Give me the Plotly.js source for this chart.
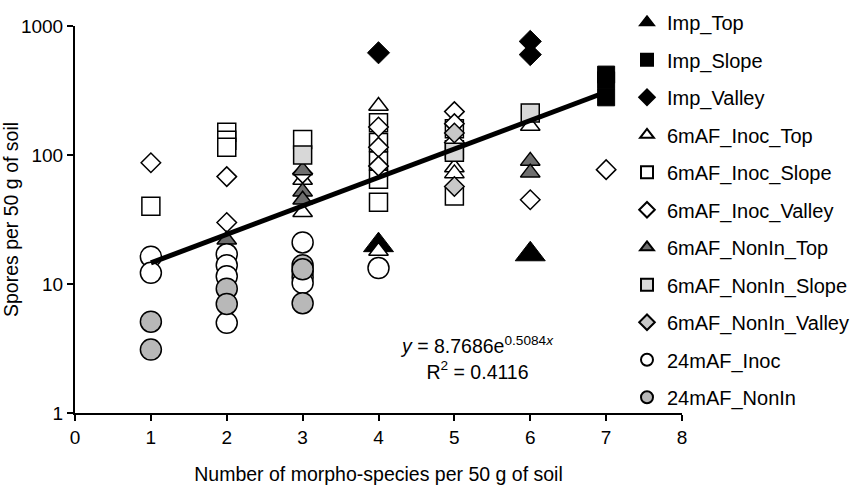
<!DOCTYPE html>
<html>
<head>
<meta charset="utf-8">
<script src="https://cdn.plot.ly/plotly-3.0.1.min.js"></script>
<style>html,body{margin:0;padding:0;background:#fff;}#chart{width:860px;height:488px;}</style>
</head>
<body>
<div id="chart"></div>
<script>
// ---- data ----
const impTopX = [4, 6];
const impTopY = [20, 17];
const impSlopeX = [7, 7, 7];
const impSlopeY = [420, 380, 280];
const impValleyX = [4, 6, 6];
const impValleyY = [620, 760, 600];
const inocTopX = [3, 3, 4, 4, 5, 5, 6];
const inocTopY = [64, 36, 240, 18, 80, 72, 168];
const inocSlopeX = [1, 2, 2, 2, 3, 4, 4, 4, 4, 4, 5, 5, 5];
const inocSlopeY = [40, 150, 130, 115, 132, 178, 125, 90, 65, 43, 160, 110, 48];
const inocValleyX = [1, 2, 2, 3, 4, 4, 4, 5, 5, 5, 6, 7];
const inocValleyY = [87, 68, 30, 72, 165, 115, 82, 217, 175, 125, 45, 77];
const nonTopX = [2, 3, 3, 3, 6, 6];
const nonTopY = [22, 76, 52, 45, 90, 73];
const nonSlopeX = [3, 5, 6];
const nonSlopeY = [100, 105, 212];
const nonValleyX = [5, 5];
const nonValleyY = [148, 57];
const m24InocX = [1, 1, 2, 2, 2, 2, 3, 3, 3, 3, 4];
const m24InocY = [16.3, 12.2, 17, 14, 11.5, 5, 21, 12.5, 11.3, 10.2, 13.3];
const m24NonX = [1, 1, 2, 2, 3, 3, 3];
const m24NonY = [5.1, 3.1, 9.2, 7, 14, 13, 7.1];
// exponential trend line y = a*e^(b*x), drawn from x=1 to x=7
const trendA = 8.7686;
const trendB = 0.5084;
const trendX = [1, 7];
const xTicks = [0, 1, 2, 3, 4, 5, 6, 7, 8];
const yTicks = [1, 10, 100, 1000];
const yTickText = ['1', '10', '100', '1000'];

const FONT = 'Liberation Sans, Arial, sans-serif';
function tr(name, x, y, symbol, size, fill, lw) {
  return {
    type: 'scatter', mode: 'markers', name: name, x: x, y: y,
    legendgroup: name,
    marker: {symbol: symbol, size: size, color: fill, line: {color: '#000', width: lw}},
    hoverinfo: 'x+y'
  };
}
const data = [
  tr('Imp_Top', impTopX, impTopY, 'triangle-up', 26, '#000', 1),
  tr('Imp_Slope', impSlopeX, impSlopeY, 'square', 17, '#000', 1),
  tr('Imp_Valley', impValleyX, impValleyY, 'diamond', 17, '#000', 1),
  tr('6mAF_Inoc_Top', inocTopX, inocTopY, 'triangle-up', 17, '#fff', 1.5),
  tr('6mAF_Inoc_Slope', inocSlopeX, inocSlopeY, 'square', 18, '#fff', 1.5),
  tr('6mAF_Inoc_Valley', inocValleyX, inocValleyY, 'diamond', 15, '#fff', 1.5),
  tr('6mAF_NonIn_Top', nonTopX, nonTopY, 'triangle-up', 17, '#6e6e6e', 1.5),
  tr('6mAF_NonIn_Slope', nonSlopeX, nonSlopeY, 'square', 18, '#d8d8d8', 1.5),
  tr('6mAF_NonIn_Valley', nonValleyX, nonValleyY, 'diamond', 15, '#c8c8c8', 1.5),
  tr('24mAF_Inoc', m24InocX, m24InocY, 'circle', 21, '#fff', 1.5),
  tr('24mAF_NonIn', m24NonX, m24NonY, 'circle', 21, '#b8b8b8', 1.5),
  {
    type: 'scatter', mode: 'lines', x: trendX,
    y: trendX.map(v => trendA * Math.exp(trendB * v)),
    line: {color: '#000', width: 5}, showlegend: false, hoverinfo: 'skip'
  }
];

// plot area: x 75..682 px, y 26..413 px
const ML = 75, MR = 2, PLOT_RIGHT = 682;
const paperW = 860 - ML - MR;

const layout = {
  width: 860, height: 488,
  margin: {l: ML, r: MR, t: 26, b: 75},
  paper_bgcolor: '#fff', plot_bgcolor: '#fff',
  font: {family: FONT, size: 19, color: '#000'},
  showlegend: true,
  legend: {
    x: (627 - ML) / paperW, xanchor: 'left', y: 1.06, yanchor: 'top',
    font: {family: FONT, size: 20, color: '#000'},
    itemsizing: 'constant', tracegroupgap: 8.5, maxheight: 480,
    bgcolor: 'rgba(0,0,0,0)'
  },
  xaxis: {
    domain: [0, (PLOT_RIGHT - ML) / paperW],
    range: [0, 8], tickvals: xTicks, showgrid: false, zeroline: false,
    showline: true, linecolor: '#000', linewidth: 2,
    ticks: 'outside', ticklen: 6, tickwidth: 2, tickcolor: '#000',
    tickfont: {family: FONT, size: 19, color: '#000'},
    title: {text: 'Number of morpho-species per 50 g of soil', font: {family: FONT, size: 19.5, color: '#000'}, standoff: 21}
  },
  yaxis: {
    type: 'log', range: [0, 3], tickvals: yTicks, ticktext: yTickText,
    showgrid: false, zeroline: false,
    showline: true, linecolor: '#000', linewidth: 2,
    ticks: 'outside', ticklen: 6, tickwidth: 2, tickcolor: '#000',
    tickfont: {family: FONT, size: 19, color: '#000'},
    title: {text: 'Spores per 50 g of soil', font: {family: FONT, size: 19.5, color: '#000'}, standoff: 5}
  },
  annotations: [{
    xref: 'paper', yref: 'paper', x: (477 - ML) / paperW, y: 0.142, xanchor: 'center', yanchor: 'middle',
    showarrow: false, align: 'center',
    text: '<i>y</i> = 8.7686e<sup>0.5084<i>x</i></sup><br>R<sup>2</sup> = 0.4116',
    font: {family: FONT, size: 19.5, color: '#000'}
  }]
};

Plotly.newPlot('chart', data, layout, {displayModeBar: false, staticPlot: true});
</script>
</body>
</html>
